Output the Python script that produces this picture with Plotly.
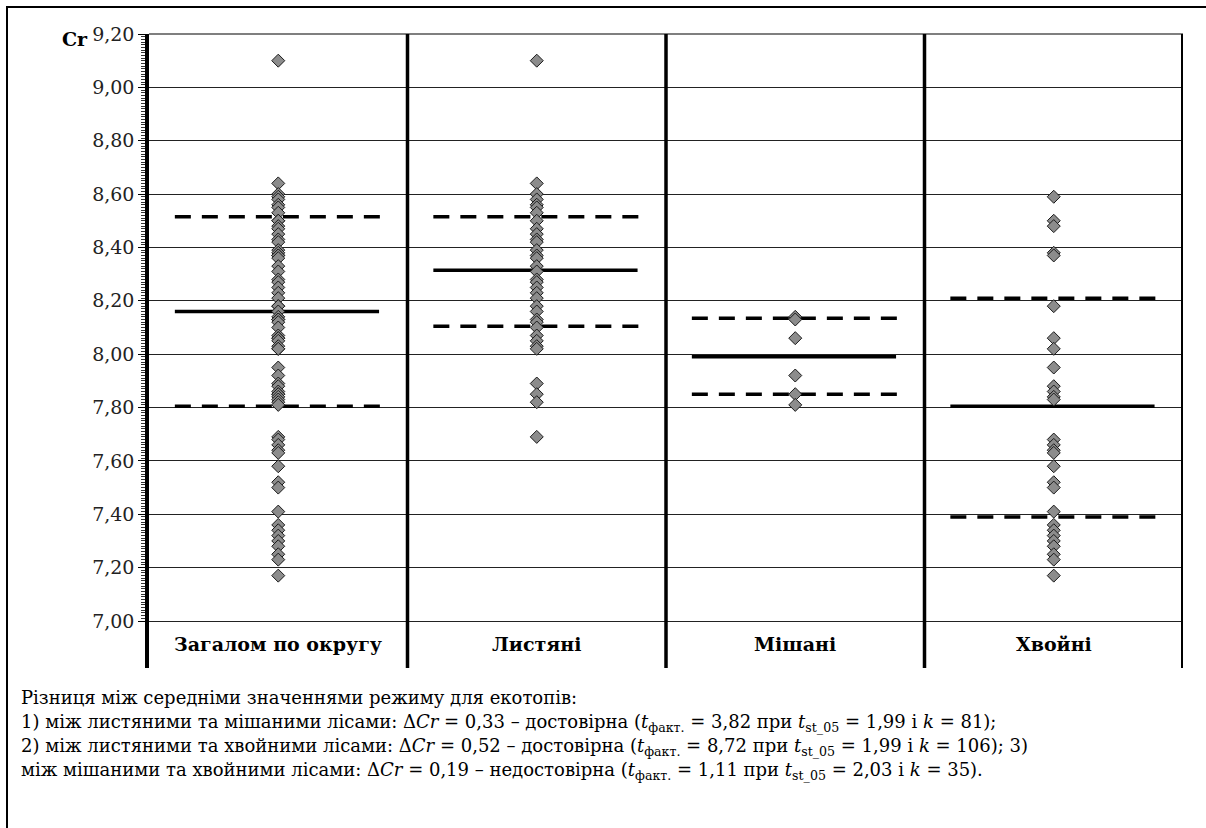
import numpy as np
import plotly.graph_objects as go

categories = ["Загалом по округу", "Листяні", "Мішані", "Хвойні"]

overall = [9.10, 8.64, 8.60, 8.59, 8.58, 8.56, 8.55, 8.53, 8.50, 8.50, 8.48, 8.47, 8.45,
           8.43, 8.42, 8.39, 8.38, 8.37, 8.37, 8.36, 8.33, 8.31, 8.28, 8.27, 8.25, 8.23,
           8.21, 8.18, 8.18, 8.16, 8.14, 8.13, 8.13, 8.12, 8.10, 8.07, 8.06, 8.06, 8.05,
           8.03, 8.02, 8.02, 7.95, 7.92, 7.89, 7.88, 7.86, 7.85, 7.85, 7.84, 7.83, 7.82,
           7.81, 7.69, 7.68, 7.66, 7.64, 7.63, 7.58, 7.52, 7.50, 7.41, 7.36, 7.34, 7.32,
           7.30, 7.28, 7.25, 7.23, 7.17]
deciduous = [9.10, 8.64, 8.60, 8.58, 8.56, 8.55, 8.53, 8.50, 8.47, 8.45, 8.43, 8.42, 8.39,
             8.37, 8.36, 8.33, 8.31, 8.28, 8.27, 8.25, 8.23, 8.21, 8.18, 8.16, 8.13, 8.12,
             8.10, 8.07, 8.05, 8.03, 8.02, 7.89, 7.85, 7.82, 7.69]
mixed = [8.14, 8.13, 8.06, 7.92, 7.85, 7.81]
conifer = [8.59, 8.50, 8.48, 8.38, 8.37, 8.18, 8.06, 8.02, 7.95, 7.88, 7.86, 7.84, 7.83,
           7.68, 7.66, 7.64, 7.63, 7.58, 7.52, 7.50, 7.41, 7.36, 7.34, 7.32, 7.30, 7.28,
           7.25, 7.23, 7.17]

means = [8.16, 8.315, 7.99, 7.805]
upper = [8.515, 8.515, 8.135, 8.21]
lower = [7.805, 8.105, 7.85, 7.39]

y_ticks = [7.0, 7.2, 7.4, 7.6, 7.8, 8.0, 8.2, 8.4, 8.6, 8.8, 9.0, 9.2]

series = [overall, deciduous, mixed, conifer]

FONT = "DejaVu Serif"

fig = go.Figure()

DASH = "16px,11px"
for i in range(4):
    xs = [i + 0.1, i + 0.9]
    fig.add_trace(go.Scatter(x=xs, y=[upper[i]] * 2, mode="lines",
                             line=dict(color="black", width=3.5, dash=DASH),
                             hoverinfo="skip", showlegend=False))
    fig.add_trace(go.Scatter(x=xs, y=[lower[i]] * 2, mode="lines",
                             line=dict(color="black", width=3.5, dash=DASH),
                             hoverinfo="skip", showlegend=False))
    fig.add_trace(go.Scatter(x=[i + 0.1, i + 0.89], y=[means[i]] * 2, mode="lines",
                             line=dict(color="black", width=3.5),
                             hoverinfo="skip", showlegend=False))

for i, vals in enumerate(series):
    fig.add_trace(go.Scatter(x=[i + 0.5] * len(vals), y=vals, mode="markers",
                             marker=dict(symbol="diamond", size=10, color="#8c8c8c",
                                         line=dict(color="#1a1a1a", width=1)),
                             showlegend=False, name=categories[i]))

L, R, T, B = 149, 23, 34, 160
W, H = 1206, 828
pw, ph = W - L - R, H - T - B

def px_x(p):
    return (p - L) / pw

def px_y(p):
    return (H - B - p) / ph

shapes = []
for xv in [1, 2, 3]:
    shapes.append(dict(type="line", xref="x", yref="paper", x0=xv, x1=xv, y0=0, y1=1,
                       line=dict(color="black", width=3.5), layer="above"))
shapes.append(dict(type="line", xref="x", yref="paper", x0=4, x1=4, y0=0, y1=1,
                   line=dict(color="black", width=4), layer="above"))
shapes.append(dict(type="line", xref="paper", yref="paper", x0=0, x1=1, y0=1, y1=1,
                   line=dict(color="black", width=1.2), layer="above"))
shapes.append(dict(type="rect", xref="paper", yref="paper",
                   x0=px_x(7), x1=px_x(W + 10), y0=px_y(H + 10), y1=px_y(7),
                   line=dict(color="black", width=2), layer="above"))

annotations = []
for i, c in enumerate(categories):
    annotations.append(dict(x=i + 0.5, y=6.912, xref="x", yref="y", text="<b>" + c + "</b>",
                            showarrow=False, yanchor="middle",
                            font=dict(family=FONT, size=19, color="black")))
annotations.append(dict(x=px_x(75), y=px_y(39), xref="paper", yref="paper", text="<b>Cr</b>",
                        xanchor="center", yanchor="middle",
                        showarrow=False, font=dict(family=FONT, size=19, color="black")))

text_lines = [
    "Різниця між середніми значеннями режиму для екотопів:",
    "1) між листяними та мішаними лісами: Δ<i>Cr</i> = 0,33 – достовірна (<i>t</i><sub>факт.</sub> = 3,82 при <i>t</i><sub>st_05</sub> = 1,99 і <i>k</i> = 81);",
    "2) між листяними та хвойними лісами: Δ<i>Cr</i> = 0,52 – достовірна (<i>t</i><sub>факт.</sub> = 8,72 при <i>t</i><sub>st_05</sub> = 1,99 і <i>k</i> = 106); 3)",
    "між мішаними та хвойними лісами: Δ<i>Cr</i> = 0,19 – недостовірна (<i>t</i><sub>факт.</sub> = 1,11 при <i>t</i><sub>st_05</sub> = 2,03 і <i>k</i> = 35).",
]
line_centers = [697, 723, 747, 771]
for j, t in enumerate(text_lines):
    annotations.append(dict(x=px_x(20), y=px_y(line_centers[j]), xref="paper", yref="paper",
                            xanchor="left", yanchor="middle", text=t, showarrow=False,
                            borderpad=0,
                            font=dict(family=FONT, size=18, color="black")))

minor_vals = [round(v, 2) for v in np.arange(7.0, 9.2001, 0.01)]

fig.update_layout(
    width=W, height=H,
    margin=dict(l=L, r=R, t=T, b=B, pad=0),
    paper_bgcolor="white", plot_bgcolor="white",
    separators=", ",
    font=dict(family=FONT, size=19, color="black"),
    shapes=shapes, annotations=annotations,
    xaxis=dict(range=[0, 4], showgrid=False, zeroline=False, showticklabels=False,
               ticks="", showline=False, fixedrange=True),
    yaxis=dict(range=[7.0 - 47 / 266.8, 9.2], tickmode="array", tickvals=y_ticks, tickformat=".2f",
               showgrid=True, gridcolor="#222", gridwidth=1, zeroline=False,
               showline=True, linecolor="black", linewidth=3.5,
               ticks="outside", ticklen=7, tickwidth=1, tickcolor="black",
               minor=dict(tickmode="array", tickvals=minor_vals, ticks="outside", ticklen=4,
                          tickcolor="#333", tickwidth=1, showgrid=False),
               tickfont=dict(family=FONT, size=19, color="#222")),
)

fig.write_html("out.html")
